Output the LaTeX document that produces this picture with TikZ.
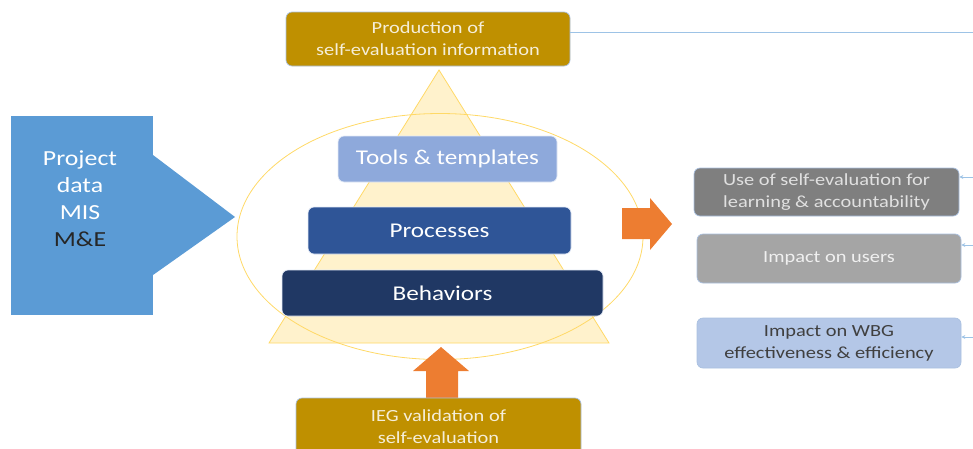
\documentclass[tikz,border=0pt]{standalone}
\usepackage{fontspec}
\setmainfont{Carlito}[FakeStretch=1.2]
\usetikzlibrary{arrows.meta,calc}
\definecolor{gold}{HTML}{BF9000}
\definecolor{tri}{HTML}{FFF2CC}
\definecolor{triedge}{HTML}{FFD966}
\definecolor{orng}{HTML}{ED7D31}
\definecolor{lblue}{HTML}{5B9BD5}
\definecolor{linec}{HTML}{9DC3E6}
\definecolor{toolc}{HTML}{8EA9DB}
\definecolor{procc}{HTML}{2F5597}
\definecolor{behc}{HTML}{203864}
\definecolor{gA}{HTML}{7F7F7F}
\definecolor{gB}{HTML}{A5A5A5}
\definecolor{bC}{HTML}{B4C7E7}
\definecolor{edgec}{HTML}{A9C0E0}
\tikzset{
  box/.style={rounded corners=6pt, draw=edgec, line width=0.7pt, align=center, inner sep=0pt},
  goldbox/.style={box, fill=gold, text=white!85!gold, font=\fontsize{17}{22}\selectfont},
  tierbox/.style={box, draw=white!75!toolc, text=white, font=\fontsize{21}{24}\selectfont},
  rbox/.style={box, font=\fontsize{17}{22}\selectfont},
  conn/.style={draw=linec, line width=1pt},
  sarrow/.style={draw=linec, line width=0.9pt, -{Stealth[length=4pt,width=4pt]}},
}
\begin{document}
\begin{tikzpicture}[x=1pt,y=-1pt]
\useasboundingbox (0,0) rectangle (973,448);
% pyramid and ellipse
\path[fill=tri, draw=triedge, line width=0.8pt] (439,70) -- (609,343) -- (269,343) -- cycle;
\draw[triedge, line width=0.8pt] (440,236.5) ellipse [x radius=203, y radius=123];
% top box
\node[goldbox, minimum width=284pt, minimum height=54pt] (top) at (428,39) {Production of\\self-evaluation information};
\coordinate (topR) at (973,32);
\draw[conn] (top.east |- topR) -- (topR);
% tiers
\node[tierbox, fill=toolc, minimum width=219pt, minimum height=46pt] (tools) at (447.5,159) {Tools \& templates};
\node[tierbox, fill=procc, minimum width=263pt, minimum height=47pt] (proc) at (439.5,230.5) {Processes};
\node[tierbox, fill=behc, minimum width=321pt, minimum height=46pt] (beh) at (442.5,293) {Behaviors};
% left block
\node[fill=lblue, minimum width=142pt, minimum height=199pt, inner sep=0pt] (proj) at (82,215.5) {};
\path[fill=lblue] (153,155) -- (235,217) -- (153,275) -- cycle;
\node[align=center, text=white, font=\fontsize{21.5}{27}\selectfont] (projtxt) at (80,199)
  {Project\\data\\MIS\\\textcolor{black!85}{M\&E}};
% orange arrows
\path[fill=orng] (622,208) -- (650,208) -- (650,198) -- (672,224) -- (650,250) -- (650,239) -- (622,239) -- cycle;
\path[fill=orng] (426,400) -- (426,371) -- (413,371) -- (441,347) -- (469,371) -- (458,371) -- (458,400) -- cycle;
% bottom box
\node[goldbox, minimum width=285pt, minimum height=58pt] (ieg) at (438.5,427) {IEG validation of\\self-evaluation};
% right boxes
\node[rbox, fill=gA, text=black!12, minimum width=265pt, minimum height=48pt] (use) at (826.5,192) {Use of self-evaluation for\\learning \& accountability};
\node[rbox, fill=gB, text=black!6, minimum width=264pt, minimum height=49pt] (imp) at (829,258.5) {Impact on users};
\node[rbox, fill=bC, text=black!75, minimum width=264pt, minimum height=50pt] (wbg) at (829,343) {Impact on WBG\\effectiveness \& efficiency};
\coordinate (r1) at (973,177);
\coordinate (r2) at (973,245);
\coordinate (r3) at (973,337);
\draw[sarrow] (r1) -- (use.east |- r1);
\draw[sarrow] (r2) -- (imp.east |- r2);
\draw[sarrow] (r3) -- (wbg.east |- r3);
\end{tikzpicture}
\end{document}
